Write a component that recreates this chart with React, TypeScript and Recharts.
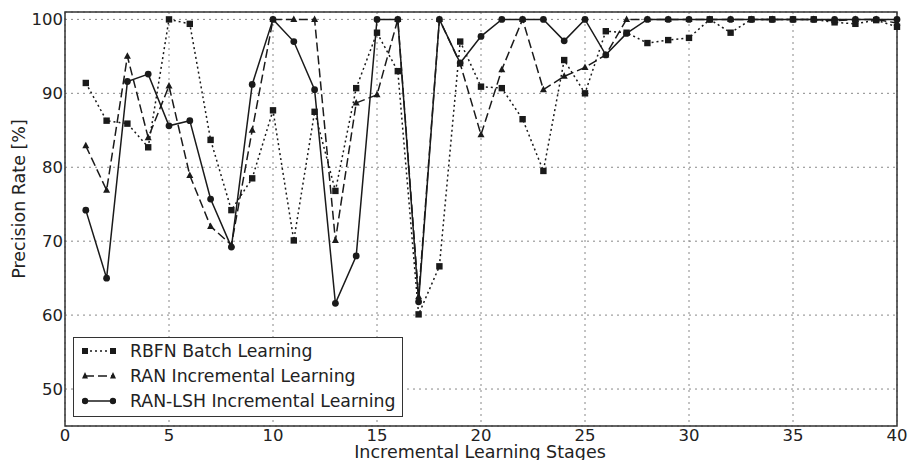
import React from 'react';
import { LineChart, Line, XAxis, YAxis, CartesianGrid, ReferenceArea, Legend, Label } from 'recharts';

const stages = [1,2,3,4,5,6,7,8,9,10,11,12,13,14,15,16,17,18,19,20,21,22,23,24,25,26,27,28,29,30,31,32,33,34,35,36,37,38,39,40];
const rbfn = [91.4, 86.3, 85.9, 82.7, 100, 99.4, 83.7, 74.2, 78.5, 87.7, 70.1, 87.5, 76.8, 90.7, 98.2, 93.0, 60.1, 66.6, 97.0, 90.9, 90.7, 86.5, 79.5, 94.5, 90.0, 98.4, 98.2, 96.8, 97.2, 97.5, 100, 98.2, 100, 100, 100, 100, 99.6, 99.4, 99.9, 99.0];
const ran = [82.9, 76.9, 95.0, 84.0, 91.0, 78.9, 72.0, 69.5, 85.0, 100, 100, 100, 70.1, 88.7, 89.8, 100, 62.5, 100, 94.0, 84.4, 93.2, 100, 90.5, 92.3, 93.5, 95.2, 100, 100, 100, 100, 100, 100, 100, 100, 100, 100, 99.8, 100, 100, 99.5];
const lsh = [74.2, 65.0, 91.6, 92.6, 85.6, 86.3, 75.7, 69.2, 91.2, 100, 97.0, 90.5, 61.6, 68.0, 100, 100, 61.8, 100, 94.1, 97.7, 100, 100, 100, 97.1, 100, 95.2, 98.1, 100, 100, 100, 100, 100, 100, 100, 100, 100, 100, 100, 100, 100];
const xTicks = [0, 5, 10, 15, 20, 25, 30, 35, 40];
const yTicks = [50, 60, 70, 80, 90, 100];
const seriesNames = ['RBFN Batch Learning', 'RAN Incremental Learning', 'RAN-LSH Incremental Learning'];

const data = stages.map((s, i) => ({ stage: s, rbfn: rbfn[i], ran: ran[i], lsh: lsh[i] }));

const INK = '#1a1a1a';
const FONT = 'DejaVu Sans, sans-serif';

const SquareDot = (props: any) => {
  const { cx, cy, index } = props;
  if (cx == null || cy == null) return <g key={index} />;
  return <rect key={index} x={cx - 3.2} y={cy - 3.2} width={6.4} height={6.4} fill={INK} />;
};
const TriDot = (props: any) => {
  const { cx, cy, index } = props;
  if (cx == null || cy == null) return <g key={index} />;
  return <polygon key={index} points={`${cx},${cy - 4} ${cx - 3.5},${cy + 2.5} ${cx + 3.5},${cy + 2.5}`} fill={INK} />;
};
const CircDot = (props: any) => {
  const { cx, cy, index } = props;
  if (cx == null || cy == null) return <g key={index} />;
  return <circle key={index} cx={cx} cy={cy} r={3.4} fill={INK} />;
};

const dashes = ['2 3', '9 4', undefined];

const LegendBox = () => (
  <div style={{ width: 330, height: 80, border: '1.5px solid #333', background: '#fff', boxSizing: 'border-box', fontFamily: FONT, fontSize: 17.3, color: '#222', position: 'relative' }}>
    {seriesNames.map((name, i) => (
      <div key={name} style={{ position: 'absolute', left: 8, top: 1 + i * 25, height: 24, display: 'flex', alignItems: 'center', whiteSpace: 'nowrap' }}>
        <svg width={34} height={12} style={{ marginRight: 14 }}>
          <line x1={3} y1={6} x2={31} y2={6} stroke={INK} strokeWidth={1.5} strokeDasharray={dashes[i]} />
          {i === 0 && <><rect x={0} y={3} width={6} height={6} fill={INK} /><rect x={28} y={3} width={6} height={6} fill={INK} /></>}
          {i === 1 && <><polygon points="3,2 0,8.5 6,8.5" fill={INK} /><polygon points="31,2 28,8.5 34,8.5" fill={INK} /></>}
          {i === 2 && <><circle cx={3} cy={6} r={3.2} fill={INK} /><circle cx={31} cy={6} r={3.2} fill={INK} /></>}
        </svg>
        <span>{name}</span>
      </div>
    ))}
  </div>
);

export default function App() {
  return (
    <div style={{ position: 'absolute', left: 0, top: 0, width: 911, height: 460, background: '#fff' }}>
      <LineChart width={911} height={460} data={data} margin={{ top: 12, right: 14, bottom: 0, left: 0 }}>
        <CartesianGrid stroke="#888" strokeDasharray="2 4" strokeWidth={1} />
        <XAxis dataKey="stage" type="number" domain={[0, 40]} ticks={xTicks} height={34} axisLine={false} tickLine={false} tickSize={0} tickMargin={3}
          tick={{ fontFamily: FONT, fontSize: 16.5, fill: '#222' }} interval={0}>
          <Label content={() => (
            <text x={480} y={458} textAnchor="middle" fontFamily={FONT} fontSize={17.5} fill="#222">Incremental Learning Stages</text>
          )} />
        </XAxis>
        <YAxis type="number" domain={[45, 101]} ticks={yTicks} width={65} axisLine={false} tickLine={false} tickSize={0} tickMargin={2} allowDataOverflow
          tick={{ fontFamily: FONT, fontSize: 16.5, fill: '#222' }} interval={0}>
          <Label content={() => (
            <text transform="translate(25,199) rotate(-90)" textAnchor="middle" fontFamily={FONT} fontSize={17.5} fill="#222">Precision Rate [%]</text>
          )} />
        </YAxis>
        <ReferenceArea x1={0} x2={40} y1={45} y2={101} fill="none" fillOpacity={0} stroke="#333" strokeWidth={1.5} ifOverflow="visible" />
        <Line dataKey="rbfn" name={seriesNames[0]} stroke={INK} strokeWidth={1.5} strokeDasharray="2 3" dot={SquareDot} isAnimationActive={false} />
        <Line dataKey="ran" name={seriesNames[1]} stroke={INK} strokeWidth={1.5} strokeDasharray="9 4" dot={TriDot} isAnimationActive={false} />
        <Line dataKey="lsh" name={seriesNames[2]} stroke={INK} strokeWidth={1.5} dot={CircDot} isAnimationActive={false} />
        <Legend layout="horizontal" verticalAlign="middle" align="center" content={() => <LegendBox />}
          wrapperStyle={{ left: 73, top: 337, width: 330, height: 80 }} />
      </LineChart>
    </div>
  );
}
